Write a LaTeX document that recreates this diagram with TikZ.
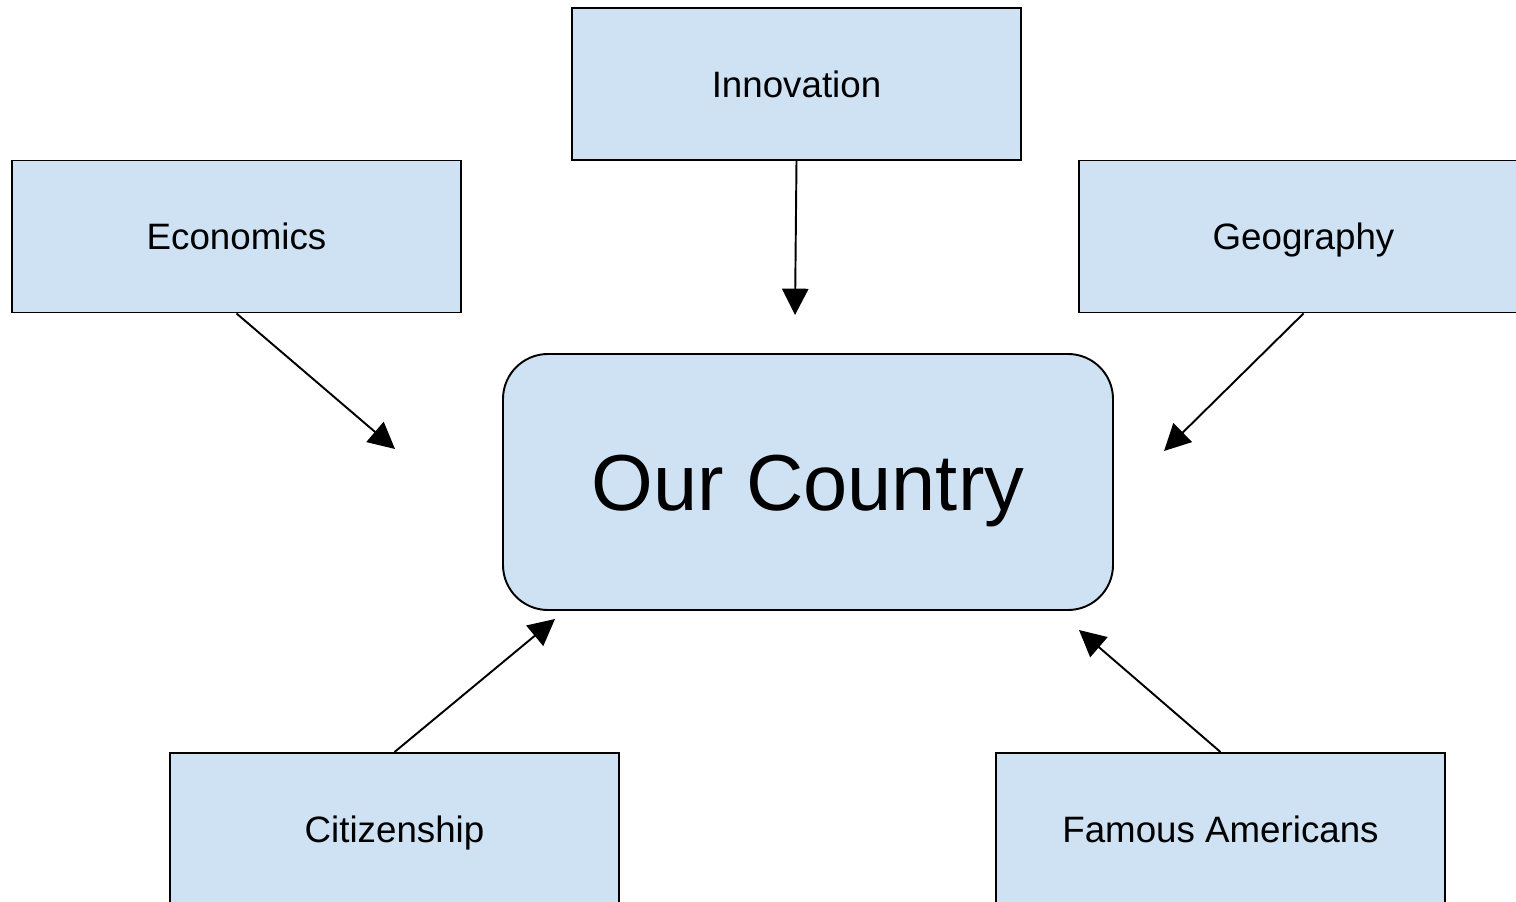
\documentclass[tikz,border=0pt]{standalone}
\usepackage{fontspec}
\setmainfont{Liberation Sans}
\usetikzlibrary{arrows.meta}
\definecolor{boxblue}{HTML}{CFE2F3}
\begin{document}
\begin{tikzpicture}[x=0.02cm,y=-0.02cm,
  box/.style={draw=black, line width=1.1pt, fill=boxblue, minimum width=449*0.02cm, minimum height=152*0.02cm, inner sep=0pt, font=\fontsize{20.9}{25}\selectfont, text height=15pt, text depth=0pt},
  arr/.style={line width=1.1pt, -{Triangle[length=15pt,width=15pt]}}]
\useasboundingbox (0,0) rectangle (1516,902);
\clip (0,0) rectangle (1516,902);
\node[box] (innov) at (796.5,84) {Innovation};
\node[box] (econ) at (236.5,236.5) {Economics};
\node[box] (geo) at (1303.5,236.5) {Geography};
\node[box] (citi) at (394.5,829) {Citizenship};
\node[box] (famous) at (1220.5,829) {Famous Americans};
\node[draw=black, line width=1.1pt, fill=boxblue, rounded corners=45*0.02cm, minimum width=610*0.02cm, minimum height=256*0.02cm, inner sep=0pt, font=\fontsize{45.2}{54}\selectfont, text height=32.4pt, text depth=0pt] (our) at (808,482) {Our Country};
\coordinate (tinnov) at (795,315);
\coordinate (tecon) at (395,449);
\coordinate (tgeo) at (1164,451);
\coordinate (tciti) at (555,619);
\coordinate (tfamous) at (1079,630);
\draw[arr] (innov.south) -- (tinnov);
\draw[arr] (econ.south) -- (tecon);
\draw[arr] (geo.south) -- (tgeo);
\draw[arr] (citi.north) -- (tciti);
\draw[arr] (famous.north) -- (tfamous);
\end{tikzpicture}
\end{document}
